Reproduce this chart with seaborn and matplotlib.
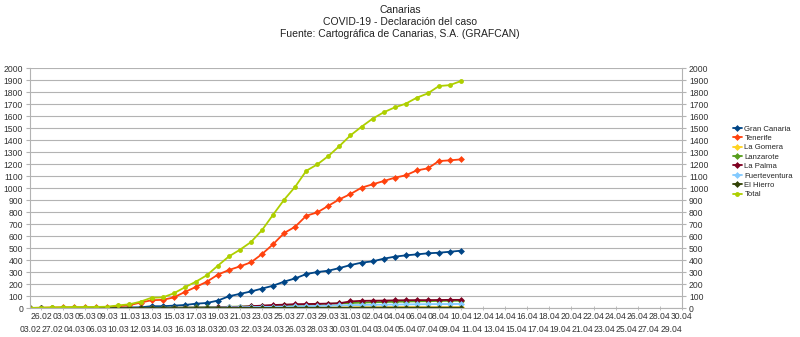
import numpy as np
import pandas as pd
import matplotlib
matplotlib.use("Agg")
import matplotlib.pyplot as plt
import seaborn as sns

dates = ["03.02", "26.02", "27.02", "03.03", "04.03", "05.03", "06.03", "09.03",
         "10.03", "11.03", "12.03", "13.03", "14.03", "15.03", "16.03", "17.03",
         "18.03", "19.03", "20.03", "21.03", "22.03", "23.03", "24.03", "25.03",
         "26.03", "27.03", "28.03", "29.03", "30.03", "31.03", "01.04", "02.04",
         "03.04", "04.04", "05.04", "06.04", "07.04", "08.04", "09.04", "10.04",
         "11.04", "12.04", "13.04", "14.04", "15.04", "16.04", "17.04", "18.04",
         "19.04", "20.04", "21.04", "22.04", "23.04", "24.04", "25.04", "26.04",
         "27.04", "28.04", "29.04", "30.04"]

gran_canaria = [0, 0, 1, 1, 2, 2, 2, 3, 4, 5, 6, 15, 15, 20, 25, 36, 42, 62, 98, 118,
                138, 162, 186, 220, 247, 283, 300, 311, 333, 358, 378, 389, 411, 428,
                439, 447, 456, 461, 469, 478]
tenerife = [0, 2, 4, 5, 5, 5, 6, 7, 15, 24, 45, 65, 68, 88, 133, 175, 219, 278, 317,
            347, 381, 450, 532, 625, 678, 769, 797, 852, 906, 950, 1003, 1031, 1058,
            1086, 1106, 1147, 1164, 1225, 1231, 1239]
la_gomera = [1, 1, 1, 1, 1, 1, 1, 1, 1, 1, 1, 1, 1, 1, 1, 1, 2, 2, 2, 3, 3, 3, 4, 4,
             4, 5, 5, 5, 6, 6, 6, 6, 7, 7, 7, 7, 7, 7, 7, 7]
lanzarote = [0, 0, 0, 0, 0, 0, 0, 0, 0, 1, 1, 2, 2, 3, 4, 5, 7, 8, 10, 12, 14, 17, 20,
             22, 25, 28, 32, 35, 38, 42, 45, 48, 50, 52, 54, 56, 57, 59, 60, 61]
la_palma = [0, 0, 0, 0, 0, 0, 0, 0, 0, 0, 0, 1, 1, 2, 3, 3, 4, 5, 8, 10, 15, 20, 25,
            28, 32, 33, 35, 37, 40, 55, 60, 61, 62, 64, 65, 66, 66, 67, 68, 68]
fuerteventura = [0, 0, 0, 0, 0, 0, 0, 0, 0, 0, 0, 0, 1, 1, 2, 2, 3, 4, 5, 6, 8, 9, 10,
                 11, 13, 15, 18, 20, 22, 24, 25, 27, 28, 29, 30, 31, 32, 33, 33, 34]
el_hierro = [0, 0, 0, 0, 0, 0, 0, 0, 0, 0, 0, 0, 0, 0, 0, 0, 0, 0, 0, 1, 1, 1, 1, 1,
             2, 2, 2, 2, 2, 2, 3, 3, 3, 3, 3, 3, 3, 3, 3, 3]
total = [1, 3, 5, 7, 8, 8, 9, 11, 22, 31, 53, 86, 88, 122, 172, 219, 273, 353, 430,
         486, 550, 650, 778, 903, 1011, 1144, 1197, 1267, 1350, 1439, 1511, 1578,
         1631, 1672, 1703, 1753, 1789, 1850, 1858, 1892]

series_names = ["Gran Canaria", "Tenerife", "La Gomera", "Lanzarote", "La Palma",
                "Fuerteventura", "El Hierro", "Total"]
series_values = [gran_canaria, tenerife, la_gomera, lanzarote, la_palma,
                 fuerteventura, el_hierro, total]
colors = ["#004586", "#ff420e", "#ffd320", "#579d1c", "#7e0021", "#83caff",
          "#314004", "#aecf00"]

rows = []
for name, vals in zip(series_names, series_values):
    for i, v in enumerate(vals):
        rows.append({"idx": i, "value": v, "serie": name})
df = pd.DataFrame(rows)

sns.set_style("white")
plt.rcParams["font.family"] = ["Liberation Sans", "DejaVu Sans"]

fig = plt.figure(figsize=(8.0, 3.37), dpi=100)
ax = fig.add_axes([0.0375, 0.086, 0.815, 0.712])

markers = {n: ("o" if n == "Total" else "D") for n in series_names}
sns.lineplot(data=df, x="idx", y="value", hue="serie", style="serie",
             hue_order=series_names, style_order=series_names,
             palette=dict(zip(series_names, colors)), markers=markers,
             dashes=False, linewidth=1.3, markersize=3.5, markeredgewidth=0,
             ax=ax, legend=True)

ax.set_xlim(0, len(dates) - 1)
ax.set_ylim(0, 2000)
ax.set_yticks(np.arange(0, 2001, 100))

# staggered category labels: even positions on the lower row, odd on the upper row
even_pos = np.arange(0, len(dates), 2)
odd_pos = np.arange(1, len(dates), 2)
ax.set_xticks(even_pos)
ax.set_xticklabels([dates[i] for i in even_pos])
ax.set_xticks(odd_pos, minor=True)
ax.set_xticklabels([dates[i] for i in odd_pos], minor=True)

ax.set_xlabel("")
ax.set_ylabel("")
ax.yaxis.grid(True, color="#b3b3b3", linewidth=0.8)
ax.xaxis.grid(False)
ax.set_axisbelow(True)
for s in ["left", "right", "bottom"]:
    ax.spines[s].set_visible(True)
    ax.spines[s].set_color("#b3b3b3")
    ax.spines[s].set_linewidth(0.8)
ax.spines["top"].set_visible(False)
ax.tick_params(axis="x", which="major", labelsize=6.2, colors="#333333", length=3,
               direction="inout", color="#b3b3b3", pad=10.5)
ax.tick_params(axis="x", which="minor", labelsize=6.2, colors="#333333", length=3,
               direction="inout", color="#b3b3b3", pad=1.5, bottom=True)
ax.tick_params(axis="y", labelsize=6.2, colors="#333333", length=3,
               color="#b3b3b3", left=True, right=True, labelleft=True,
               labelright=True, pad=2)
ax.tick_params(axis="y", which="minor", left=False, right=False)

handles, labels = ax.get_legend_handles_labels()
ax.get_legend().remove()
fig.legend(handles, labels, loc="center left", bbox_to_anchor=(0.912, 0.52),
           frameon=False, fontsize=5.6, handlelength=1.2, handletextpad=0.3,
           labelspacing=0.25, borderaxespad=0)

fig.text(0.5, 0.97, "Canarias", ha="center", va="center", fontsize=7.5, color="#222222")
fig.text(0.5, 0.935, "COVID-19 - Declaración del caso", ha="center", va="center",
         fontsize=7.5, color="#222222")
fig.text(0.5, 0.9, "Fuente: Cartográfica de Canarias, S.A. (GRAFCAN)", ha="center",
         va="center", fontsize=7.5, color="#222222")

fig.savefig("out.png", dpi=100)
